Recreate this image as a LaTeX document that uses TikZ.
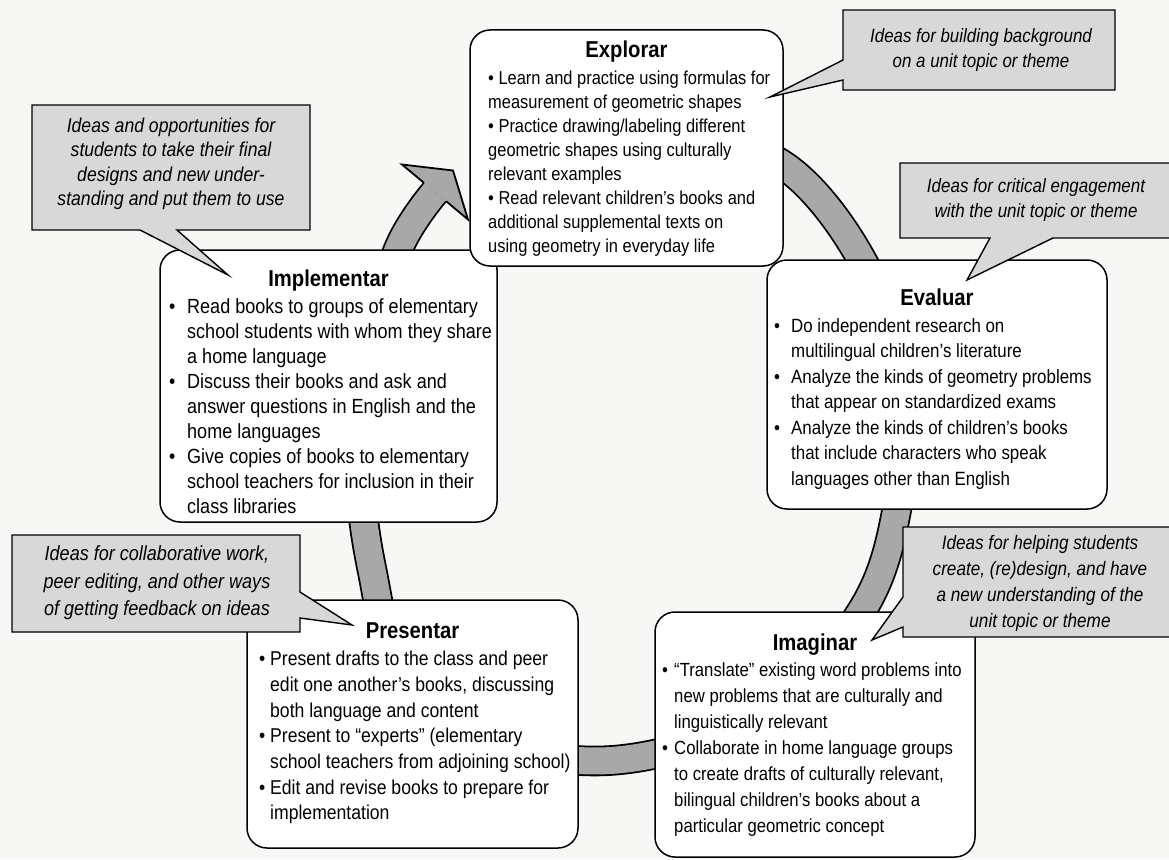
\documentclass[tikz,border=0pt]{standalone}
\usepackage{fontspec}
\setmainfont{Liberation Sans}
\newfontfamily\narrowsans[FakeStretch=0.88]{Liberation Sans}
\newlength\hangw
\newcommand\bitem{\makebox[\hangw][l]{\textbullet}}
\newcommand\cont{\hspace*{\hangw}}
\definecolor{pagebg}{RGB}{247,247,245}
\definecolor{ringgray}{RGB}{168,168,168}
\definecolor{notegray}{RGB}{216,216,216}

\begin{document}
\begin{tikzpicture}[x=1pt,y=-1pt,
  stagebox/.style={draw=black, line width=1.5pt, fill=white, rounded corners=20pt, inner sep=0pt},
  stagetitle/.style={anchor=base, inner sep=0pt, font=\narrowsans\bfseries\fontsize{23}{26}\selectfont},
  stagetext/.style={anchor=north west, inner sep=0pt, align=left},
  notetext/.style={inner sep=0pt, align=center},
  noteshape/.style={draw=black, line width=1.4pt, fill=notegray, line join=miter},
]
\useasboundingbox (0,0) rectangle (1169,859);
\clip (0,0) rectangle (1169,859);
\fill[pagebg] (0,0) rectangle (1169,859);

% cycle band running clockwise behind the stage boxes
\draw[double=ringgray, double distance=27pt, line width=1.8pt, line cap=butt]
  plot[smooth, tension=0.6] coordinates {(560,140) (680,140) (783,165) (863,262) (903,385)
    (897,508) (861,612) (768,712) (617,760) (480,738) (400,665) (372,570) (360,470)
    (368,360) (398,250) (435,192)};
% arrow head at the end of the band
\filldraw[fill=ringgray, draw=black, line width=1.8pt, line join=miter]
  (423.9,182.8) -- (402,164.5) -- (453,170.5) -- (468,219.5) -- (446.1,201.2);

% stage boxes
\node[stagebox, minimum width=340pt, minimum height=249pt] (evaluar) at (937,384.5) {};
\node[stagebox, minimum width=337pt, minimum height=272pt] (implementar) at (328.5,386) {};
\node[stagebox, minimum width=313pt, minimum height=236pt] (explorar) at (626.5,148) {};
\node[stagebox, minimum width=331pt, minimum height=248pt] (presentar) at (412.5,724) {};
\node[stagebox, minimum width=320pt, minimum height=245pt] (imaginar) at (815,734.5) {};

% titles
\node[stagetitle] (explorarT) at (626.5,58) {Explorar};
\node[stagetitle] (implementarT) at (328.5,286) {Implementar};
\node[stagetitle] (evaluarT) at (937,305) {Evaluar};
\node[stagetitle] (presentarT) at (412.5,638) {Presentar};
\node[stagetitle] (imaginarT) at (815,650) {Imaginar};

% stage activities
\node[stagetext, font=\narrowsans\fontsize{18.7}{24}\selectfont] (explorarB) at (488,71) {%
\textbullet\ Learn and practice using formulas for\\
measurement of geometric shapes\\
\textbullet\ Practice drawing/labeling different\\
geometric shapes using culturally\\
relevant examples\\
\textbullet\ Read relevant children’s books and\\
additional supplemental texts on\\
using geometry in everyday life};

\node[stagetext, font={\narrowsans\fontsize{20.5}{25}\selectfont\setlength\hangw{18pt}}] (implementarB) at (169,298) {%
\bitem Read books to groups of elementary\\
\cont school students with whom they share\\
\cont a home language\\
\bitem Discuss their books and ask and\\
\cont answer questions in English and the\\
\cont home languages\\
\bitem Give copies of books to elementary\\
\cont school teachers for inclusion in their\\
\cont class libraries};

\node[stagetext, font={\narrowsans\fontsize{19.2}{25.5}\selectfont\setlength\hangw{17pt}}] (evaluarB) at (774,318) {%
\bitem Do independent research on\\
\cont multilingual children’s literature\\
\bitem Analyze the kinds of geometry problems\\
\cont that appear on standardized exams\\
\bitem Analyze the kinds of children’s books\\
\cont that include characters who speak\\
\cont languages other than English};

\node[stagetext, font={\narrowsans\fontsize{20}{25.7}\selectfont\setlength\hangw{11pt}}] (presentarB) at (259,651) {%
\bitem Present drafts to the class and peer\\
\cont edit one another’s books, discussing\\
\cont both language and content\\
\bitem Present to “experts” (elementary\\
\cont school teachers from adjoining school)\\
\bitem Edit and revise books to prepare for\\
\cont implementation};

\node[stagetext, font={\narrowsans\fontsize{19}{26}\selectfont\setlength\hangw{12pt}}] (imaginarB) at (662,663) {%
\bitem “Translate” existing word problems into\\
\cont new problems that are culturally and\\
\cont linguistically relevant\\
\bitem Collaborate in home language groups\\
\cont to create drafts of culturally relevant,\\
\cont bilingual children’s books about a\\
\cont particular geometric concept};

% callouts
\coordinate (tip1) at (228,275);
\coordinate (tip2) at (770,97);
\coordinate (tip3) at (967,280);
\coordinate (tip4) at (872,640);
\coordinate (tip5) at (352,625);

\filldraw[noteshape] (32,105) -- (310,105) -- (310,230) -- (177,230) -- (tip1) -- (140,230) -- (32,230) -- cycle;
\node[notetext, font=\narrowsans\itshape\fontsize{20}{24.5}\selectfont] (note1) at (171,164) {Ideas and opportunities for\\students to take their final\\designs and new under-\\standing and put them to use};

\filldraw[noteshape] (843,10) -- (1115,10) -- (1115,90) -- (843,90) -- (843,80) -- (tip2) -- (843,60) -- cycle;
\node[notetext, font=\narrowsans\itshape\fontsize{19.2}{25}\selectfont] (note2) at (981,50) {Ideas for building background\\on a unit topic or theme};

\filldraw[noteshape] (900,163) -- (1175,163) -- (1175,238) -- (1053,238) -- (tip3) -- (990,238) -- (900,238) -- cycle;
\node[notetext, font=\narrowsans\itshape\fontsize{19.3}{25}\selectfont] (note3) at (1036,200) {Ideas for critical engagement\\with the unit topic or theme};

\filldraw[noteshape] (903,527) -- (1180,527) -- (1180,637) -- (903,637) -- (903,627) -- (tip4) -- (903,597) -- cycle;
\node[notetext, font=\narrowsans\itshape\fontsize{19.5}{26}\selectfont] (note4) at (1040,583) {Ideas for helping students\\create, (re)design, and have\\a new understanding of the\\unit topic or theme};

\filldraw[noteshape] (12,535) -- (300,535) -- (300,592) -- (tip5) -- (300,618) -- (300,632) -- (12,632) -- cycle;
\node[notetext, font=\narrowsans\itshape\fontsize{20.5}{27.5}\selectfont] (note5) at (157,583) {Ideas for collaborative work,\\peer editing, and other ways\\of getting feedback on ideas};
\end{tikzpicture}
\end{document}
